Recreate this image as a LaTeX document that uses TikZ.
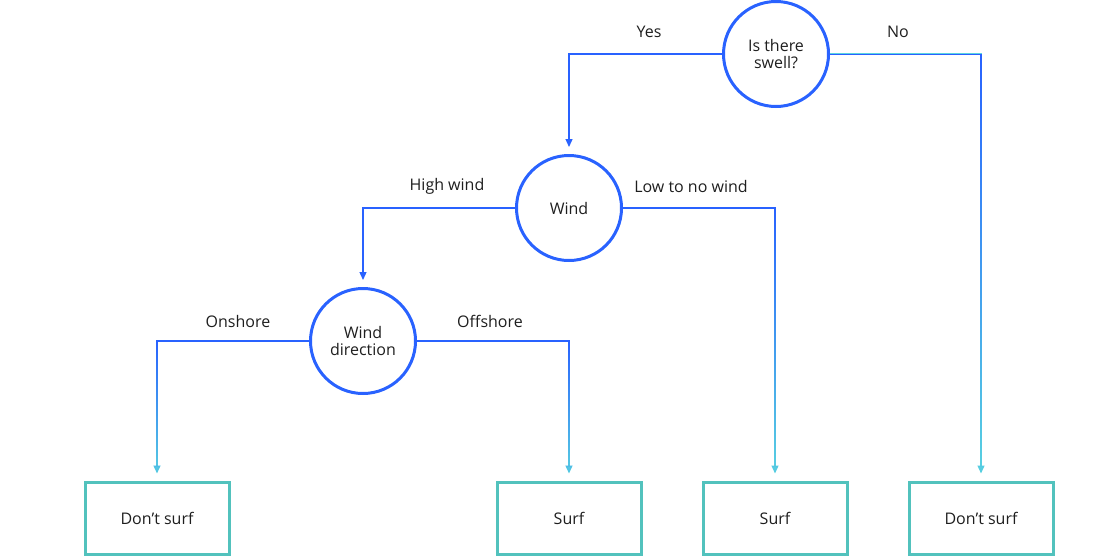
\documentclass[tikz,border=0pt]{standalone}
\usepackage{fontspec}
\setmainfont{Open Sans}
\usetikzlibrary{arrows.meta,fadings}
\definecolor{qblue}{HTML}{2962FF}
\definecolor{endteal}{HTML}{52C2BD}
\definecolor{linecyan}{HTML}{5AD4E0}
\definecolor{txt}{HTML}{1E1E1E}
\tikzset{
  question/.style={draw=qblue, line width=3pt, circle, minimum size=105pt, align=center, text=txt, font=\fontsize{16}{17}\selectfont},
  answer/.style={draw=endteal, line width=3pt, minimum width=144pt, minimum height=72pt, text=txt, font=\fontsize{16}{17}\selectfont},
  label/.style={text=txt, font=\fontsize{16}{17}\selectfont},
  link/.style={draw=qblue, line width=1.3pt, -{Triangle[length=8pt,width=7pt]}, shorten >=7pt},
  fadelink/.style={draw=linecyan, line width=1.3pt, -{Triangle[length=8pt,width=7pt]}, shorten >=7pt,
    postaction={draw=qblue, path fading=south}},
}
\begin{document}
\begin{tikzpicture}[x=1pt, y=-1pt]
\useasboundingbox (0,0) rectangle (1107,557);
% questions
\node[question] (swell) at (776,54) {Is there\\swell?};
\node[question] (wind) at (569,208) {Wind};
\node[question] (dir) at (363,341) {Wind\\direction};
% outcomes
\node[answer] (dontA) at (157,518) {Don’t surf};
\node[answer] (surfA) at (569,518) {Surf};
\node[answer] (surfB) at (775,518) {Surf};
\node[answer] (dontB) at (981,518) {Don’t surf};
% branches
\draw[link] (swell.west) -| (wind.north);
\draw[fadelink] (swell.east) -| (dontB.north);
\draw[link] (wind.west) -| (dir.north);
\draw[fadelink] (wind.east) -| (surfB.north);
\draw[fadelink] (dir.west) -| (dontA.north);
\draw[fadelink] (dir.east) -| (surfA.north);
% branch labels
\node[label] (yes) at (649,32) {Yes};
\node[label] (no) at (898,32) {No};
\node[label] (high) at (447,186) {High wind};
\node[label] (low) at (691,186) {Low to no wind};
\node[label] (on) at (238,321) {Onshore};
\node[label] (off) at (490,321) {Offshore};
\end{tikzpicture}
\end{document}
